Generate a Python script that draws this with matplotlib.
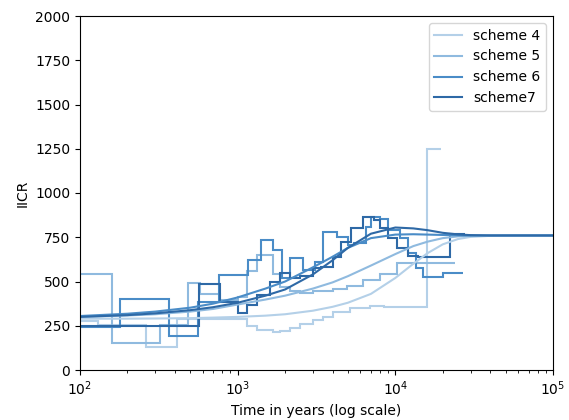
import matplotlib
matplotlib.use("Agg")
import matplotlib.pyplot as plt
import numpy as np

# PSMC-style step estimates: time edges (years) and IICR values per scheme
s4_edges = [100, 130, 262, 412, 1146, 1325, 1674, 1855, 2147, 2485, 3000, 3500,
            4020, 5156, 6900, 8500, 15850, 19460]
s4_vals = [277, 254, 130, 290, 250, 225, 212, 222, 240, 260, 285, 300,
           330, 350, 362, 355, 1250]

s5_edges = [100, 160, 321, 484, 577, 771, 1000, 1146, 1325, 1674, 1855, 2147,
            2485, 3000, 4020, 4930, 6230, 7980, 10230, 23880]
s5_vals = [540, 150, 255, 490, 430, 395, 410, 560, 650, 540, 470, 445,
           435, 445, 455, 475, 510, 545, 605]

s6_edges = [100, 180, 367, 560, 760, 1160, 1400, 1674, 1900, 2147, 2600, 3100,
            3500, 4250, 5000, 5500, 6500, 7000, 8000, 9000, 10700, 12000, 13500,
            15000, 20000, 26840]
s6_vals = [243, 400, 190, 385, 537, 620, 735, 680, 520, 633, 565, 610,
           780, 750, 705, 720, 810, 865, 855, 790, 745, 660, 575, 525, 550]

s7_edges = [100, 568, 771, 1000, 1150, 1325, 1600, 1855, 2147, 2485, 3000, 3400,
            4000, 4500, 5200, 6200, 7300, 8000, 9000, 10200, 12000, 14000,
            22180, 27600]
s7_vals = [250, 487, 385, 320, 365, 425, 497, 550, 520, 530, 575, 580,
           640, 725, 800, 865, 850, 800, 745, 690, 645, 640, 770]

# theoretical IICR curves (time, value)
curve_t = [100, 200, 300, 500, 700, 1000, 1500, 2000, 3000, 4000, 5000, 7000,
           10000, 13000, 16000, 20000, 25000, 30000, 40000, 60000, 100000]
c4_vals = [290, 290, 291, 293, 296, 300, 307, 315, 335, 357, 380, 430,
           520, 600, 660, 710, 740, 752, 758, 760, 760]
c5_vals = [300, 308, 315, 330, 345, 370, 398, 420, 460, 495, 530, 590,
           655, 700, 725, 745, 755, 758, 760, 760, 760]
c6_vals = [305, 318, 330, 352, 375, 410, 460, 500, 580, 640, 690, 745,
           765, 767, 765, 763, 761, 760, 760, 760, 760]
c7_vals = [300, 310, 320, 338, 355, 380, 420, 455, 540, 620, 690, 770,
           805, 800, 790, 775, 766, 762, 760, 760, 760]

labels = ["scheme 4", "scheme 5", "scheme 6", "scheme7"]
colors = ["#b4d0e8", "#8fbadf", "#4a8cc7", "#2e69a6"]

steps = [(s4_edges, s4_vals), (s5_edges, s5_vals),
         (s6_edges, s6_vals), (s7_edges, s7_vals)]
curves = [c4_vals, c5_vals, c6_vals, c7_vals]

fig = plt.figure(figsize=(5.69, 4.2), dpi=100)
ax = fig.add_axes([80 / 569, 1 - 370 / 420, 473 / 569, 354 / 420])

for (edges, vals), cvals, col, lab in zip(steps, curves, colors, labels):
    ax.stairs(vals, edges, baseline=None, color=col, lw=1.5)
    ax.plot(curve_t, cvals, color=col, lw=1.5, label=lab)

ax.set_xscale("log")
ax.set_xlim(100, 100000)
ax.set_ylim(0, 2000)
ax.set_yticks(np.arange(0, 2001, 250))
ax.set_xlabel("Time in years (log scale)")
ax.set_ylabel("IICR")
ax.legend(loc="upper right")

fig.savefig("out.png", dpi=100)
